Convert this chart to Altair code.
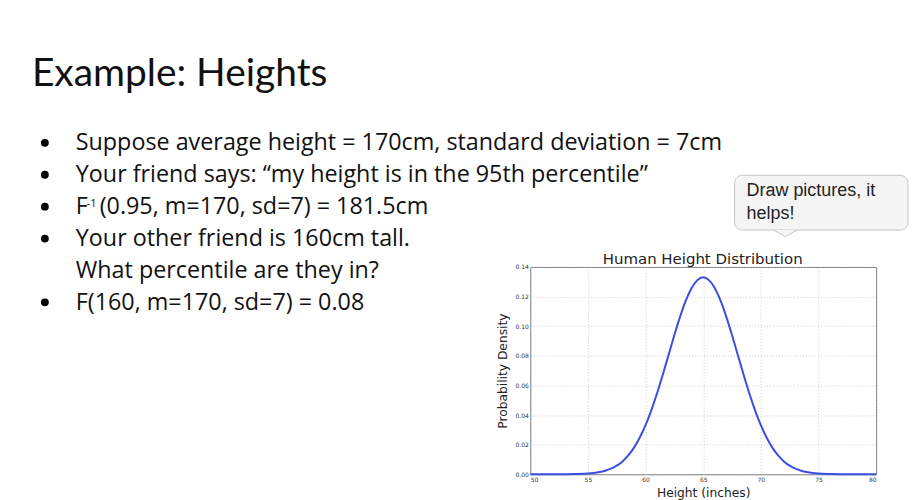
import altair as alt
import pandas as pd

# slide text
slide_title = "Example: Heights"
bullet_lines = [
    "Suppose average height = 170cm, standard deviation = 7cm",
    "Your friend says: \u201cmy height is in the 95th percentile\u201d",
    ["F", "-1", "(0.95, m=170, sd=7) = 181.5cm"],
    "Your other friend is 160cm tall.",
    "What percentile are they in?",
    "F(160, m=170, sd=7) = 0.08",
]
bullet_rows = [0, 1, 2, 3, 5]
callout_lines = ["Draw pictures, it", "helps!"]

# chart values
chart_title = "Human Height Distribution"
x_title = "Height (inches)"
y_title = "Probability Density"
x_ticks = [50, 55, 60, 65, 70, 75, 80]
y_ticks = [0.0, 0.02, 0.04, 0.06, 0.08, 0.10, 0.12, 0.14]
height_in = [50, 51, 52, 53, 54, 55, 55.5, 56, 56.5, 57, 57.5, 58, 58.5, 59, 59.5,
             60, 60.5, 61, 61.5, 62, 62.5, 63, 63.5, 64, 64.5, 65, 65.5, 66, 66.5,
             67, 67.5, 68, 68.5, 69, 69.5, 70, 70.5, 71, 71.5, 72, 72.5, 73, 73.5,
             74, 74.5, 75, 76, 77, 78, 79, 80]
density = [0, 0, 0, 0.00003, 0.00016, 0.0005, 0.0009, 0.0015, 0.0024, 0.0038, 0.0058,
           0.0087, 0.0127, 0.018, 0.0248, 0.0332, 0.0432, 0.0547, 0.0674, 0.0807,
           0.094, 0.1065, 0.1174, 0.1258, 0.1311, 0.133, 0.1311, 0.1258, 0.1174,
           0.1065, 0.094, 0.0807, 0.0674, 0.0547, 0.0432, 0.0332, 0.0248, 0.018,
           0.0127, 0.0087, 0.0058, 0.0038, 0.0024, 0.0015, 0.0009, 0.0005, 0.00016,
           0.00003, 0, 0, 0]

df = pd.DataFrame({"height": height_in, "density": density})

# plot area origin on the page
OX, OY = 532, 267
one = alt.Data(values=[{}])


def label(text, x, y, size, font, color="#000", align="left", baseline="alphabetic", weight="normal"):
    return alt.Chart(one).mark_text(
        text=text, align=align, baseline=baseline, font=font, fontSize=size,
        color=color, fontWeight=weight
    ).encode(x=alt.value(x - OX), y=alt.value(y - OY))


BODY = "Open Sans"
layers = []

curve = alt.Chart(df).mark_line(color="#3a4fe0", strokeWidth=2, interpolate="monotone").encode(
    x=alt.X("height:Q", title=x_title,
            scale=alt.Scale(domain=[50, 80], nice=False),
            axis=alt.Axis(values=x_ticks, format="d", titlePadding=4)),
    y=alt.Y("density:Q", title=y_title,
            scale=alt.Scale(domain=[0, 0.14], nice=False),
            axis=alt.Axis(values=y_ticks, format=".2f", titlePadding=5)),
)
layers.append(curve)
layers.append(label(chart_title, 705, 264, 15, "DejaVu Sans", color="#222", align="center"))

# slide heading
layers.append(label(slide_title, 32, 85, 39, "Lato", color="#111"))

# bullet list
baselines = [150, 182, 214, 246, 278, 310]
for i, line in enumerate(bullet_lines):
    y = baselines[i]
    if isinstance(line, list):
        layers.append(label(line[0], 76, y, 23.4, BODY, color="#111"))
        layers.append(label(line[1], 87, y - 7, 11, BODY, color="#111"))
        layers.append(label(line[2], 100, y, 23.4, BODY, color="#111"))
    else:
        layers.append(label(line, 76, y, 23.4, BODY, color="#111"))
for i in bullet_rows:
    layers.append(alt.Chart(one).mark_point(filled=True, shape="circle", size=62, color="#000", opacity=1).encode(
        x=alt.value(45 - OX), y=alt.value(baselines[i] - 7.5 - OY)))

# speech bubble
layers.append(alt.Chart(one).mark_rect(fill="#f5f5f5", stroke="#c4c4c4", strokeWidth=1, cornerRadius=8).encode(
    x=alt.value(737 - OX), x2=alt.value(911 - OX), y=alt.value(175 - OY), y2=alt.value(230 - OY)))
layers.append(alt.Chart(one).mark_point(
    shape="M-1,-0.3L0,0.25L1,-0.3", filled=True, fill="#f5f5f5", stroke="#c4c4c4",
    strokeWidth=1, size=576, opacity=1).encode(
    x=alt.value(788 - OX), y=alt.value(233.5 - OY)))
layers.append(label(callout_lines[0], 749, 196, 18, "Liberation Sans", color="#222"))
layers.append(label(callout_lines[1], 749, 219, 18, "Liberation Sans", color="#222"))

chart = alt.layer(*layers).properties(
    width=347, height=208,
    autosize=alt.AutoSizeParams(type="none"),
    padding={"left": 524, "top": 259, "right": 33, "bottom": 25},
    background="white",
).configure_view(
    stroke="#777", strokeWidth=1
).configure_axis(
    domain=False, ticks=False, grid=True,
    gridColor="#bbb", gridDash=[1, 2], gridWidth=0.7,
    labelFont="DejaVu Sans", labelFontSize=6, labelColor="#333", labelPadding=2,
    titleFont="DejaVu Sans", titleFontSize=12.3, titleFontWeight="normal", titleColor="#222",
)

chart.save("out.html", embed_options={"renderer": "svg", "actions": False})
